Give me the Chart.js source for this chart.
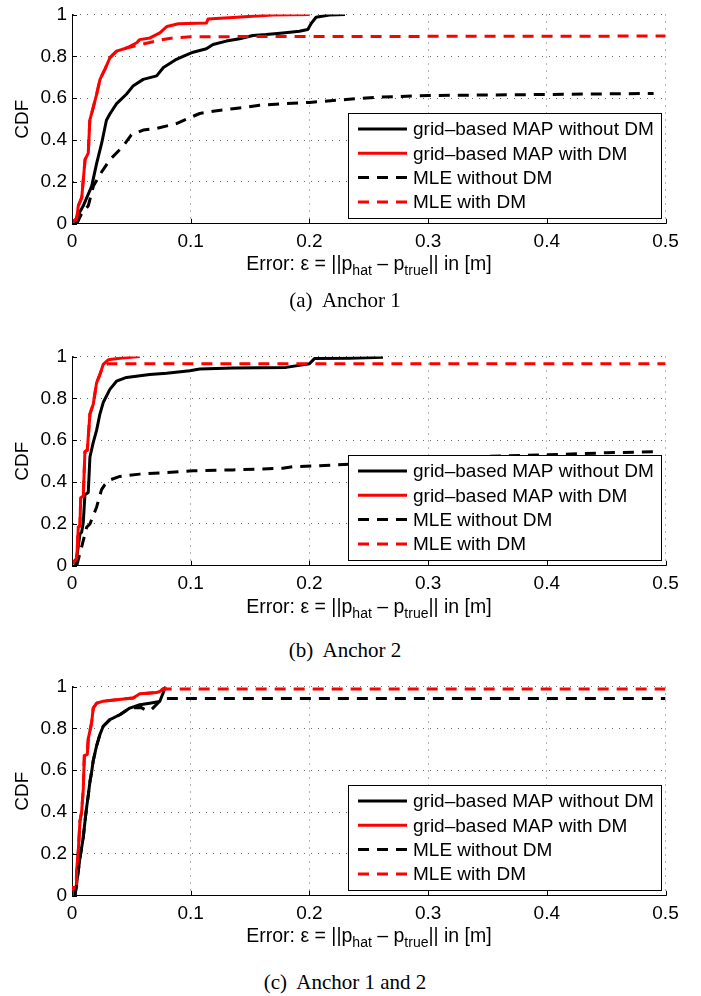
<!DOCTYPE html>
<html>
<head>
<meta charset="utf-8">
<script src="https://cdn.jsdelivr.net/npm/chart.js@4.4.0/dist/chart.umd.min.js"></script>
<style>
    body { margin: 0; background: #fff; }
    #page { position: relative; width: 701px; height: 996px; overflow: hidden; font-family: "Liberation Sans", Arial, sans-serif; }
    canvas { position: absolute; left: 0; }
    .xtitle { position: absolute; left: 72px; width: 594px; text-align: center; font-size: 19.5px; line-height: 22px; color: #000; white-space: nowrap; }
    .xtitle span { font-size: 14px; position: relative; top: 5px; }
    .caption { position: absolute; left: 0; width: 690px; text-align: center; font-family: "Liberation Serif", "Times New Roman", serif; font-size: 21px; line-height: 24px; white-space: pre; color: #000; }
</style>
</head>
<body>
<div id="page">
    <canvas id="c0" width="701" height="260" style="top:0px"></canvas>
    <div class="xtitle" style="top:252px">Error: ε = ||p<span>hat</span> – p<span>true</span>|| in [m]</div>
    <div class="caption" id="cap0" style="top:288px"></div>

    <canvas id="c1" width="701" height="260" style="top:342px"></canvas>
    <div class="xtitle" style="top:595px">Error: ε = ||p<span>hat</span> – p<span>true</span>|| in [m]</div>
    <div class="caption" id="cap1" style="top:638px"></div>

    <canvas id="c2" width="701" height="260" style="top:672px"></canvas>
    <div class="xtitle" style="top:924px">Error: ε = ||p<span>hat</span> – p<span>true</span>|| in [m]</div>
    <div class="caption" id="cap2" style="top:970px"></div>
</div>
<script>
// tick labels and names
const xTickLabels = ['0', '0.1', '0.2', '0.3', '0.4', '0.5']
const yTickLabels = ['0', '0.2', '0.4', '0.6', '0.8', '1']
const seriesNames = ['grid–based MAP without DM', 'grid–based MAP with DM', 'MLE without DM', 'MLE with DM']
const captions = ['(a)  Anchor 1', '(b)  Anchor 2', '(c)  Anchor 1 and 2']

// CDF curves, [error in m, CDF]
const anchor1MapNoDM = [[0.003,0],[0.004,0.03],[0.0095,0.086],[0.0166,0.18],[0.0208,0.29],[0.025,0.385],[0.029,0.495],[0.032,0.526],[0.0376,0.574],[0.046,0.62],[0.0517,0.66],[0.06,0.69],[0.0713,0.707],[0.077,0.747],[0.088,0.786],[0.0936,0.8],[0.102,0.82],[0.1132,0.836],[0.1188,0.857],[0.13,0.873],[0.1412,0.884],[0.1524,0.9],[0.1636,0.904],[0.1776,0.912],[0.1916,0.92],[0.1986,0.928],[0.2014,0.956],[0.2056,0.987],[0.2168,0.998],[0.23,1]]
const anchor1MapDM = [[0,0.008],[0.004,0.024],[0.0053,0.086],[0.0082,0.125],[0.011,0.307],[0.0137,0.338],[0.015,0.495],[0.018,0.558],[0.0208,0.62],[0.0236,0.69],[0.0278,0.739],[0.032,0.794],[0.0376,0.825],[0.046,0.84],[0.0545,0.865],[0.057,0.88],[0.0657,0.888],[0.074,0.912],[0.08,0.943],[0.0896,0.956],[0.1132,0.959],[0.1146,0.978],[0.1356,0.986],[0.169,0.998],[0.2,1]]
const anchor1MleNoDM = [[0.004,0],[0.008,0.047],[0.0137,0.086],[0.018,0.18],[0.0236,0.236],[0.032,0.307],[0.043,0.37],[0.05,0.425],[0.06,0.448],[0.0713,0.456],[0.088,0.479],[0.0964,0.5],[0.1076,0.527],[0.1188,0.538],[0.1356,0.55],[0.158,0.566],[0.1776,0.574],[0.2,0.58],[0.2308,0.594],[0.259,0.605],[0.3,0.613],[0.4,0.618],[0.49,0.623]]
const anchor1MleDM = [[0,0.008],[0.004,0.024],[0.0053,0.086],[0.0082,0.125],[0.011,0.307],[0.0137,0.338],[0.015,0.495],[0.018,0.558],[0.0208,0.62],[0.0236,0.69],[0.0278,0.739],[0.032,0.794],[0.0376,0.825],[0.046,0.84],[0.0587,0.857],[0.074,0.878],[0.085,0.888],[0.1,0.894],[0.5,0.897]]

const anchor2MapNoDM = [[0.003,0],[0.0067,0.152],[0.0081,0.16],[0.0095,0.207],[0.0109,0.34],[0.0137,0.35],[0.0151,0.52],[0.0179,0.59],[0.0207,0.647],[0.0235,0.725],[0.0263,0.78],[0.0319,0.843],[0.0375,0.882],[0.0459,0.9],[0.0655,0.914],[0.0796,0.92],[0.0992,0.932],[0.1076,0.94],[0.1356,0.945],[0.1804,0.948],[0.2,0.965],[0.2042,0.99],[0.2336,0.992],[0.262,0.997]]
const anchor2MapDM = [[0,0.01],[0.004,0.035],[0.0053,0.184],[0.0067,0.19],[0.0073,0.325],[0.0095,0.333],[0.0109,0.545],[0.0129,0.553],[0.0151,0.725],[0.0179,0.772],[0.0207,0.874],[0.0235,0.914],[0.0263,0.962],[0.0305,0.984],[0.0403,0.992],[0.0571,1]]
const anchor2MleNoDM = [[0.0039,0],[0.0081,0.089],[0.0123,0.184],[0.0151,0.2],[0.0207,0.28],[0.0249,0.364],[0.0277,0.388],[0.0319,0.41],[0.0403,0.427],[0.0571,0.438],[0.0796,0.446],[0.102,0.454],[0.1356,0.458],[0.1776,0.466],[0.186,0.474],[0.2056,0.477],[0.2336,0.485],[0.3,0.51],[0.338,0.521],[0.4,0.53],[0.45,0.54],[0.49,0.545]]
const anchor2MleDM = [[0,0.01],[0.004,0.035],[0.0053,0.184],[0.0067,0.19],[0.0073,0.325],[0.0095,0.333],[0.0109,0.545],[0.0129,0.553],[0.0151,0.725],[0.0179,0.772],[0.0207,0.874],[0.0235,0.914],[0.0263,0.955],[0.03,0.965],[0.5,0.965]]

const bothMapNoDM = [[0.0025,0],[0.0039,0.058],[0.0067,0.18],[0.0095,0.28],[0.0118,0.4],[0.0137,0.48],[0.0151,0.545],[0.0165,0.59],[0.0179,0.646],[0.0207,0.716],[0.0235,0.77],[0.0263,0.81],[0.0319,0.842],[0.0403,0.865],[0.0487,0.897],[0.0571,0.913],[0.0655,0.92],[0.0739,0.928],[0.0767,0.968],[0.0781,0.99]]
const bothMapDM = [[0,0],[0.001,0.04],[0.0034,0.04],[0.0039,0.12],[0.0053,0.215],[0.0067,0.356],[0.0081,0.4],[0.0095,0.51],[0.0104,0.67],[0.0129,0.675],[0.0137,0.75],[0.0165,0.826],[0.0179,0.897],[0.0207,0.92],[0.0263,0.93],[0.0375,0.937],[0.0515,0.945],[0.0571,0.965],[0.0711,0.971],[0.0739,0.976],[0.0767,0.99],[0.0796,0.997]]
const bothMleNoDM = [[0.0025,0],[0.0039,0.058],[0.0067,0.18],[0.0095,0.28],[0.0118,0.4],[0.0137,0.48],[0.0151,0.545],[0.0165,0.59],[0.0179,0.646],[0.0207,0.716],[0.0235,0.77],[0.0263,0.81],[0.0319,0.842],[0.0403,0.865],[0.0487,0.897],[0.058,0.9],[0.063,0.885],[0.067,0.89],[0.0739,0.93],[0.078,0.943],[0.5,0.943]]
const bothMleDM = [[0,0],[0.001,0.04],[0.0034,0.04],[0.0039,0.12],[0.0053,0.215],[0.0067,0.356],[0.0081,0.4],[0.0095,0.51],[0.0104,0.67],[0.0129,0.675],[0.0137,0.75],[0.0165,0.826],[0.0179,0.897],[0.0207,0.92],[0.0263,0.93],[0.0375,0.937],[0.0515,0.945],[0.0571,0.965],[0.0711,0.971],[0.0739,0.976],[0.0767,0.985],[0.08,0.988],[0.5,0.988]]

const panels = [
    [anchor1MapNoDM, anchor1MapDM, anchor1MleNoDM, anchor1MleDM],
    [anchor2MapNoDM, anchor2MapDM, anchor2MleNoDM, anchor2MleDM],
    [bothMapNoDM, bothMapDM, bothMleNoDM, bothMleDM],
]

const lineStyles = [
    { color: '#000000', dash: [] },
    { color: '#ff0000', dash: [] },
    { color: '#000000', dash: [11, 8] },
    { color: '#ff0000', dash: [11, 8] },
]

const font = '"Liberation Sans", Arial, sans-serif'
const plotTop = 11.3
const plotHeight = 212.5
const canvasHeight = 260

// legend box in the lower right corner, like matlab's
const boxLegend = {
    id: 'boxLegend',
    afterDatasetsDraw(chart) {
        const { ctx, chartArea } = chart
        const w = 313
        const h = 105
        const left = Math.round(chartArea.right - 5 - w)
        const top = Math.round(chartArea.bottom - 5.5 - h)
        ctx.save()
        ctx.fillStyle = '#fff'
        ctx.fillRect(left, top, w, h)
        ctx.strokeStyle = '#000'
        ctx.lineWidth = 1
        ctx.strokeRect(left + 0.5, top + 0.5, w, h)
        chart.data.datasets.forEach((ds, i) => {
            const y = top + 17 + i * 24.3
            ctx.beginPath()
            ctx.setLineDash(ds.borderDash)
            ctx.strokeStyle = ds.borderColor
            ctx.lineWidth = ds.borderWidth
            ctx.moveTo(left + 10, y - 1)
            ctx.lineTo(left + 59, y - 1)
            ctx.stroke()
            ctx.setLineDash([])
            ctx.fillStyle = '#000'
            ctx.font = '19px ' + font
            ctx.textBaseline = 'middle'
            ctx.fillText(ds.label, left + 65, y)
        })
        ctx.restore()
    },
}

// small ticks pointing into the plot
const innerTicks = {
    id: 'innerTicks',
    afterDraw(chart) {
        const { ctx, chartArea, scales } = chart
        ctx.save()
        ctx.strokeStyle = '#000'
        ctx.lineWidth = 1
        ctx.beginPath()
        scales.x.ticks.forEach((t) => {
            const px = Math.round(scales.x.getPixelForValue(t.value)) + 0.5
            ctx.moveTo(px, chartArea.bottom)
            ctx.lineTo(px, chartArea.bottom - 5)
        })
        scales.y.ticks.forEach((t) => {
            const py = Math.round(scales.y.getPixelForValue(t.value)) + 0.5
            ctx.moveTo(chartArea.left, py)
            ctx.lineTo(chartArea.left + 5, py)
        })
        ctx.stroke()
        ctx.restore()
    },
}

const axisStyle = {
    grid: { color: '#6a6a6a', lineWidth: 1, drawTicks: false },
    border: { display: true, color: '#000', width: 1, dash: [1, 6] },
}

panels.forEach((series, p) => {
    document.getElementById('cap' + p).textContent = captions[p]

    new Chart(document.getElementById('c' + p).getContext('2d'), {
        type: 'line',
        data: {
            datasets: series.map((pts, i) => ({
                label: seriesNames[i],
                data: pts.map(([x, y]) => ({ x, y })),
                borderColor: lineStyles[i].color,
                borderDash: lineStyles[i].dash,
                borderWidth: 3,
                borderCapStyle: 'butt',
                borderJoinStyle: 'round',
                pointRadius: 0,
                tension: 0,
                fill: false,
                order: 3 - i,
            })),
        },
        options: {
            responsive: false,
            animation: false,
            events: [],
            layout: { padding: { top: plotTop, right: 35.5, left: 0, bottom: 0 } },
            plugins: { legend: { display: false }, tooltip: { enabled: false } },
            scales: {
                x: {
                    type: 'linear',
                    min: 0,
                    max: 0.5,
                    ...axisStyle,
                    afterBuildTicks: (s) => { s.ticks = xTickLabels.map((v) => ({ value: Number(v) })) },
                    afterFit: (s) => { s.height = canvasHeight - plotTop - plotHeight },
                    ticks: {
                        color: '#000',
                        padding: 8,
                        maxRotation: 0,
                        font: { family: font, size: 19, lineHeight: 1 },
                        callback: (v, i) => xTickLabels[i],
                    },
                },
                y: {
                    type: 'linear',
                    min: 0,
                    max: 1,
                    ...axisStyle,
                    afterBuildTicks: (s) => { s.ticks = yTickLabels.map((v) => ({ value: Number(v) })) },
                    afterFit: (s) => { s.width = 72 },
                    ticks: {
                        color: '#000',
                        padding: 5,
                        font: { family: font, size: 19, lineHeight: 1 },
                        callback: (v, i) => yTickLabels[i],
                    },
                    title: {
                        display: true,
                        text: 'CDF',
                        color: '#000',
                        padding: { top: 13.5, bottom: 0 },
                        font: { family: font, size: 19, lineHeight: 1 },
                    },
                },
            },
        },
        plugins: [boxLegend, innerTicks],
    })
})
</script>
</body>
</html>
